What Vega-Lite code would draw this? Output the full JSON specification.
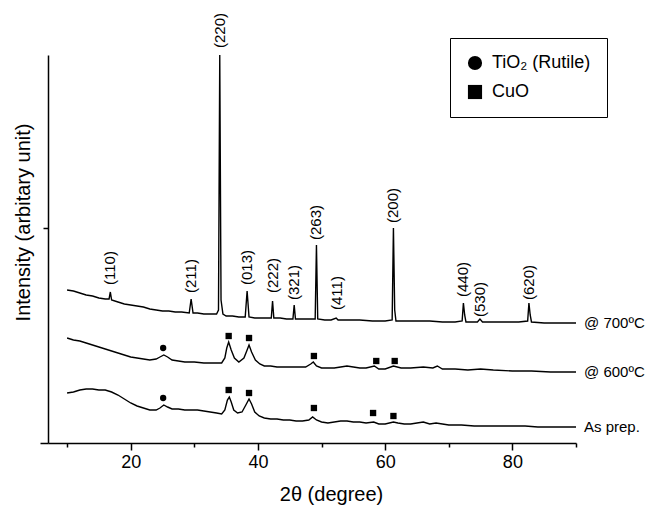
{
  "$schema": "https://vega.github.io/schema/vega-lite/v6.json",
  "width": 528,
  "height": 388,
  "autosize": {"type": "none"},
  "padding": {"left": 48, "top": 55, "right": 77, "bottom": 63},
  "background": "white",
  "config": {
    "view": {"stroke": null},
    "font": "Liberation Sans",
    "axis": {"grid": false, "domainColor": "black", "tickColor": "black", "domainWidth": 1.5, "tickWidth": 1.5, "labelColor": "black", "titleColor": "black", "labelFont": "Liberation Sans", "titleFont": "Liberation Sans", "titleFontWeight": "normal"}
  },
  "datasets": {
    "curves": [
      {"series": "As prep.", "x": 10, "y": 50}, {"series": "As prep.", "x": 11, "y": 51}, {"series": "As prep.", "x": 12, "y": 53}, {"series": "As prep.", "x": 13, "y": 54}, {"series": "As prep.", "x": 14, "y": 54}, {"series": "As prep.", "x": 15, "y": 53}, {"series": "As prep.", "x": 16, "y": 53}, {"series": "As prep.", "x": 17, "y": 51}, {"series": "As prep.", "x": 18, "y": 48}, {"series": "As prep.", "x": 19, "y": 44}, {"series": "As prep.", "x": 20, "y": 40}, {"series": "As prep.", "x": 21, "y": 37}, {"series": "As prep.", "x": 22, "y": 35}, {"series": "As prep.", "x": 23, "y": 33}, {"series": "As prep.", "x": 24, "y": 33}, {"series": "As prep.", "x": 24.6, "y": 35}, {"series": "As prep.", "x": 25.2, "y": 38}, {"series": "As prep.", "x": 25.8, "y": 36}, {"series": "As prep.", "x": 26.5, "y": 34}, {"series": "As prep.", "x": 27.5, "y": 34}, {"series": "As prep.", "x": 28.5, "y": 33}, {"series": "As prep.", "x": 29.5, "y": 33}, {"series": "As prep.", "x": 30.5, "y": 33}, {"series": "As prep.", "x": 31.5, "y": 32}, {"series": "As prep.", "x": 32.5, "y": 31}, {"series": "As prep.", "x": 33.5, "y": 30}, {"series": "As prep.", "x": 34.3, "y": 29}, {"series": "As prep.", "x": 34.8, "y": 33}, {"series": "As prep.", "x": 35.2, "y": 43}, {"series": "As prep.", "x": 35.5, "y": 46}, {"series": "As prep.", "x": 35.8, "y": 41}, {"series": "As prep.", "x": 36.2, "y": 33}, {"series": "As prep.", "x": 36.8, "y": 30}, {"series": "As prep.", "x": 37.5, "y": 31}, {"series": "As prep.", "x": 38.1, "y": 38}, {"series": "As prep.", "x": 38.6, "y": 44}, {"series": "As prep.", "x": 39.0, "y": 39}, {"series": "As prep.", "x": 39.5, "y": 31}, {"series": "As prep.", "x": 40.2, "y": 27}, {"series": "As prep.", "x": 41, "y": 25}, {"series": "As prep.", "x": 42, "y": 24}, {"series": "As prep.", "x": 43, "y": 24}, {"series": "As prep.", "x": 44, "y": 23}, {"series": "As prep.", "x": 45, "y": 23}, {"series": "As prep.", "x": 46, "y": 22}, {"series": "As prep.", "x": 47, "y": 22}, {"series": "As prep.", "x": 48, "y": 23}, {"series": "As prep.", "x": 48.6, "y": 26}, {"series": "As prep.", "x": 49.2, "y": 23}, {"series": "As prep.", "x": 50, "y": 21}, {"series": "As prep.", "x": 51, "y": 20}, {"series": "As prep.", "x": 52, "y": 21}, {"series": "As prep.", "x": 53, "y": 22}, {"series": "As prep.", "x": 54, "y": 22}, {"series": "As prep.", "x": 55, "y": 21}, {"series": "As prep.", "x": 56, "y": 21}, {"series": "As prep.", "x": 57, "y": 20}, {"series": "As prep.", "x": 58.2, "y": 21}, {"series": "As prep.", "x": 59, "y": 19}, {"series": "As prep.", "x": 60, "y": 19}, {"series": "As prep.", "x": 61.3, "y": 21}, {"series": "As prep.", "x": 62, "y": 20}, {"series": "As prep.", "x": 63, "y": 19}, {"series": "As prep.", "x": 64, "y": 19}, {"series": "As prep.", "x": 65, "y": 20}, {"series": "As prep.", "x": 66, "y": 21}, {"series": "As prep.", "x": 67, "y": 19}, {"series": "As prep.", "x": 68, "y": 20}, {"series": "As prep.", "x": 69, "y": 19}, {"series": "As prep.", "x": 70, "y": 18}, {"series": "As prep.", "x": 72, "y": 18}, {"series": "As prep.", "x": 74, "y": 17}, {"series": "As prep.", "x": 76, "y": 17}, {"series": "As prep.", "x": 78, "y": 17}, {"series": "As prep.", "x": 80, "y": 17}, {"series": "As prep.", "x": 82, "y": 17}, {"series": "As prep.", "x": 84, "y": 16}, {"series": "As prep.", "x": 86, "y": 16}, {"series": "As prep.", "x": 88, "y": 16}, {"series": "As prep.", "x": 90, "y": 16},
      {"series": "600", "x": 10, "y": 105}, {"series": "600", "x": 11, "y": 103}, {"series": "600", "x": 12, "y": 102}, {"series": "600", "x": 13, "y": 100}, {"series": "600", "x": 14, "y": 98}, {"series": "600", "x": 15, "y": 96}, {"series": "600", "x": 16, "y": 94}, {"series": "600", "x": 17, "y": 92}, {"series": "600", "x": 18, "y": 90}, {"series": "600", "x": 19, "y": 88}, {"series": "600", "x": 20, "y": 86}, {"series": "600", "x": 21, "y": 85}, {"series": "600", "x": 22, "y": 84}, {"series": "600", "x": 23, "y": 83}, {"series": "600", "x": 24, "y": 84}, {"series": "600", "x": 24.6, "y": 86}, {"series": "600", "x": 25.2, "y": 88}, {"series": "600", "x": 25.8, "y": 86}, {"series": "600", "x": 26.5, "y": 83}, {"series": "600", "x": 27.5, "y": 82}, {"series": "600", "x": 28.5, "y": 81}, {"series": "600", "x": 30, "y": 81}, {"series": "600", "x": 31.5, "y": 80}, {"series": "600", "x": 33, "y": 80}, {"series": "600", "x": 34.3, "y": 80}, {"series": "600", "x": 34.8, "y": 85}, {"series": "600", "x": 35.1, "y": 95}, {"series": "600", "x": 35.4, "y": 101}, {"series": "600", "x": 35.8, "y": 93}, {"series": "600", "x": 36.3, "y": 85}, {"series": "600", "x": 37, "y": 81}, {"series": "600", "x": 37.8, "y": 85}, {"series": "600", "x": 38.3, "y": 93}, {"series": "600", "x": 38.6, "y": 98}, {"series": "600", "x": 39, "y": 91}, {"series": "600", "x": 39.6, "y": 83}, {"series": "600", "x": 40.3, "y": 79}, {"series": "600", "x": 41, "y": 77}, {"series": "600", "x": 42, "y": 77}, {"series": "600", "x": 43, "y": 76}, {"series": "600", "x": 44, "y": 76}, {"series": "600", "x": 45, "y": 76}, {"series": "600", "x": 46, "y": 76}, {"series": "600", "x": 47.5, "y": 76}, {"series": "600", "x": 48.3, "y": 79}, {"series": "600", "x": 48.7, "y": 81}, {"series": "600", "x": 49.2, "y": 77}, {"series": "600", "x": 50, "y": 75}, {"series": "600", "x": 51, "y": 75}, {"series": "600", "x": 52, "y": 75}, {"series": "600", "x": 53, "y": 76}, {"series": "600", "x": 54, "y": 77}, {"series": "600", "x": 55, "y": 76}, {"series": "600", "x": 56, "y": 75}, {"series": "600", "x": 57, "y": 75}, {"series": "600", "x": 58.3, "y": 77}, {"series": "600", "x": 59, "y": 74}, {"series": "600", "x": 60, "y": 74}, {"series": "600", "x": 61.3, "y": 77}, {"series": "600", "x": 62.5, "y": 75}, {"series": "600", "x": 64, "y": 75}, {"series": "600", "x": 66, "y": 76}, {"series": "600", "x": 67.5, "y": 75}, {"series": "600", "x": 68.2, "y": 77}, {"series": "600", "x": 69, "y": 74}, {"series": "600", "x": 71, "y": 74}, {"series": "600", "x": 73, "y": 73}, {"series": "600", "x": 75, "y": 74}, {"series": "600", "x": 77, "y": 73}, {"series": "600", "x": 80, "y": 72}, {"series": "600", "x": 83, "y": 72}, {"series": "600", "x": 86, "y": 71}, {"series": "600", "x": 90, "y": 71},
      {"series": "700", "x": 10, "y": 153}, {"series": "700", "x": 11, "y": 152}, {"series": "700", "x": 12, "y": 150}, {"series": "700", "x": 13, "y": 148}, {"series": "700", "x": 14, "y": 147}, {"series": "700", "x": 15, "y": 145}, {"series": "700", "x": 16, "y": 144}, {"series": "700", "x": 16.6, "y": 144}, {"series": "700", "x": 16.8, "y": 151}, {"series": "700", "x": 17.0, "y": 143}, {"series": "700", "x": 18, "y": 141}, {"series": "700", "x": 19, "y": 139}, {"series": "700", "x": 20, "y": 138}, {"series": "700", "x": 21, "y": 137}, {"series": "700", "x": 22, "y": 136}, {"series": "700", "x": 23, "y": 134}, {"series": "700", "x": 24, "y": 133}, {"series": "700", "x": 25, "y": 132}, {"series": "700", "x": 26, "y": 132}, {"series": "700", "x": 27, "y": 131}, {"series": "700", "x": 28, "y": 131}, {"series": "700", "x": 29.2, "y": 130}, {"series": "700", "x": 29.5, "y": 144}, {"series": "700", "x": 29.8, "y": 130}, {"series": "700", "x": 30.5, "y": 130}, {"series": "700", "x": 31.5, "y": 129}, {"series": "700", "x": 32.5, "y": 129}, {"series": "700", "x": 33.5, "y": 129}, {"series": "700", "x": 33.8, "y": 133}, {"series": "700", "x": 34.0, "y": 388}, {"series": "700", "x": 34.2, "y": 143}, {"series": "700", "x": 34.5, "y": 129}, {"series": "700", "x": 35, "y": 127}, {"series": "700", "x": 36, "y": 127}, {"series": "700", "x": 37, "y": 126}, {"series": "700", "x": 38.0, "y": 126}, {"series": "700", "x": 38.3, "y": 152}, {"series": "700", "x": 38.6, "y": 126}, {"series": "700", "x": 39.5, "y": 125}, {"series": "700", "x": 40.5, "y": 125}, {"series": "700", "x": 41.5, "y": 125}, {"series": "700", "x": 42.1, "y": 125}, {"series": "700", "x": 42.3, "y": 142}, {"series": "700", "x": 42.5, "y": 125}, {"series": "700", "x": 43.5, "y": 125}, {"series": "700", "x": 44.5, "y": 124}, {"series": "700", "x": 45.5, "y": 124}, {"series": "700", "x": 45.7, "y": 138}, {"series": "700", "x": 45.9, "y": 124}, {"series": "700", "x": 47, "y": 124}, {"series": "700", "x": 48, "y": 124}, {"series": "700", "x": 49.0, "y": 124}, {"series": "700", "x": 49.2, "y": 198}, {"series": "700", "x": 49.4, "y": 124}, {"series": "700", "x": 50.5, "y": 123}, {"series": "700", "x": 51.5, "y": 123}, {"series": "700", "x": 52.3, "y": 125}, {"series": "700", "x": 52.6, "y": 123}, {"series": "700", "x": 54, "y": 123}, {"series": "700", "x": 56, "y": 123}, {"series": "700", "x": 58, "y": 122}, {"series": "700", "x": 60, "y": 122}, {"series": "700", "x": 61.1, "y": 123}, {"series": "700", "x": 61.3, "y": 215}, {"series": "700", "x": 61.5, "y": 133}, {"series": "700", "x": 61.7, "y": 122}, {"series": "700", "x": 63, "y": 122}, {"series": "700", "x": 65, "y": 122}, {"series": "700", "x": 67, "y": 122}, {"series": "700", "x": 69, "y": 121}, {"series": "700", "x": 71, "y": 121}, {"series": "700", "x": 72.1, "y": 122}, {"series": "700", "x": 72.3, "y": 140}, {"series": "700", "x": 72.5, "y": 128}, {"series": "700", "x": 72.7, "y": 121}, {"series": "700", "x": 74.5, "y": 121}, {"series": "700", "x": 74.9, "y": 124}, {"series": "700", "x": 75.3, "y": 121}, {"series": "700", "x": 77, "y": 121}, {"series": "700", "x": 79, "y": 121}, {"series": "700", "x": 81, "y": 121}, {"series": "700", "x": 82.4, "y": 122}, {"series": "700", "x": 82.6, "y": 140}, {"series": "700", "x": 82.8, "y": 128}, {"series": "700", "x": 83.0, "y": 121}, {"series": "700", "x": 85, "y": 120}, {"series": "700", "x": 87, "y": 120}, {"series": "700", "x": 90, "y": 120}
    ],
    "markers": [
      {"phase": "TiO₂ (Rutile)", "x": 25.1, "y": 95}, {"phase": "TiO₂ (Rutile)", "x": 25.1, "y": 45},
      {"phase": "CuO", "x": 35.4, "y": 107}, {"phase": "CuO", "x": 38.6, "y": 105}, {"phase": "CuO", "x": 48.8, "y": 87}, {"phase": "CuO", "x": 58.6, "y": 82}, {"phase": "CuO", "x": 61.5, "y": 82},
      {"phase": "CuO", "x": 35.4, "y": 53}, {"phase": "CuO", "x": 38.6, "y": 50}, {"phase": "CuO", "x": 48.8, "y": 35}, {"phase": "CuO", "x": 58.1, "y": 30}, {"phase": "CuO", "x": 61.3, "y": 27}
    ],
    "hkl": [
      {"label": "(110)", "x": 16.8, "y": 158}, {"label": "(211)", "x": 29.5, "y": 150}, {"label": "(220)", "x": 34.0, "y": 395}, {"label": "(013)", "x": 38.3, "y": 158}, {"label": "(222)", "x": 42.3, "y": 150}, {"label": "(321)", "x": 45.7, "y": 143}, {"label": "(263)", "x": 49.2, "y": 203}, {"label": "(411)", "x": 52.4, "y": 133}, {"label": "(200)", "x": 61.3, "y": 220}, {"label": "(440)", "x": 72.3, "y": 146}, {"label": "(530)", "x": 74.9, "y": 126}, {"label": "(620)", "x": 82.6, "y": 143}
    ],
    "names": [
      {"name": "@ 700ºC", "x": 90, "y": 120}, {"name": "@ 600ºC", "x": 90, "y": 71}, {"name": "As prep.", "x": 90, "y": 16}
    ]
  },
  "layer": [
    {
      "data": {"name": "curves"},
      "mark": {"type": "line", "color": "black", "strokeWidth": 1.4},
      "encoding": {
        "x": {"field": "x", "type": "quantitative", "scale": {"domain": [7, 90], "nice": false, "zero": false},
          "axis": {"values": [10, 20, 30, 40, 50, 60, 70, 80, 90], "labelExpr": "datum.value % 20 === 0 ? datum.label : ''", "tickSize": {"condition": {"test": "datum.value % 20 === 0", "value": 7}, "value": 4}, "labelFontSize": 18, "labelPadding": 3, "title": "2θ (degree)", "titleFontSize": 20, "titleX": 283, "titleY": 57, "titleBaseline": "alphabetic", "titleAlign": "center"}},
        "y": {"field": "y", "type": "quantitative", "scale": {"domain": [0, 388], "nice": false},
          "axis": {"values": [0, 215], "labels": false, "tickSize": {"condition": {"test": "datum.value === 0", "value": 8}, "value": 5}, "title": "Intensity (arbitary unit)", "titleFontSize": 20, "titleAngle": 270, "titleX": -19, "titleY": 167, "titleBaseline": "alphabetic", "titleAlign": "center"}},
        "detail": {"field": "series"}
      }
    },
    {
      "data": {"name": "markers"},
      "mark": {"type": "point", "filled": true, "color": "black", "size": 40, "opacity": 1},
      "encoding": {
        "x": {"field": "x", "type": "quantitative"},
        "y": {"field": "y", "type": "quantitative"},
        "shape": {"field": "phase", "type": "nominal", "scale": {"domain": ["TiO₂ (Rutile)", "CuO"], "range": ["circle", "square"]},
          "legend": {"title": null, "orient": "none", "legendX": 402, "legendY": -17, "strokeColor": "black", "fillColor": "white", "padding": 16, "symbolSize": 200, "symbolFillColor": "black", "symbolStrokeWidth": 0, "labelFontSize": 18, "labelFont": "Liberation Sans", "labelColor": "black", "rowPadding": 11, "labelOffset": 8}}
      }
    },
    {
      "data": {"name": "hkl"},
      "mark": {"type": "text", "angle": 270, "align": "left", "baseline": "middle", "fontSize": 15, "font": "Liberation Sans", "color": "black"},
      "encoding": {
        "x": {"field": "x", "type": "quantitative"},
        "y": {"field": "y", "type": "quantitative"},
        "text": {"field": "label"}
      }
    },
    {
      "data": {"name": "names"},
      "mark": {"type": "text", "align": "left", "baseline": "middle", "dx": 8, "fontSize": 15, "font": "Liberation Sans", "color": "black"},
      "encoding": {
        "x": {"field": "x", "type": "quantitative"},
        "y": {"field": "y", "type": "quantitative"},
        "text": {"field": "name"}
      }
    }
  ]
}
